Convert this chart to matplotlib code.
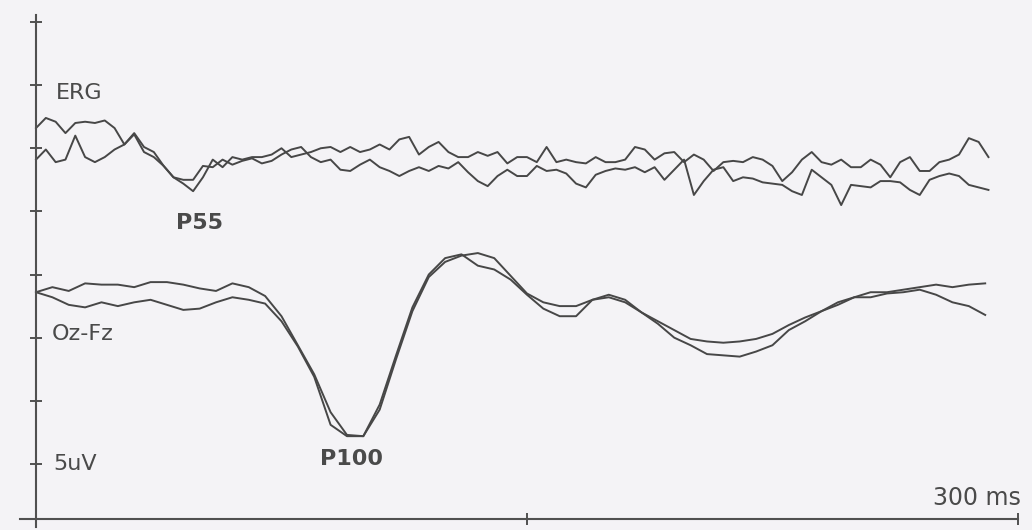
import numpy as np
from matplotlib import pyplot as plt

# time base (ms) and amplitudes (uV)
ERG_T = np.arange(0, 292, 3)
ERG_A = [2.1, 2.9, 2.6, 1.7, 2.5, 2.6, 2.5, 2.7, 2.1, 0.8,
         1.7, 0.6, 0.2, -0.9, -1.8, -2.3, -2.9, -1.8, -0.4, -1.0,
         -0.2, -0.4, -0.2, -0.2, 0.0, 0.5, -0.2, 0.0, 0.2, 0.5,
         0.6, 0.2, 0.6, 0.2, 0.4, 0.8, 0.4, 1.2, 1.4, 0.0,
         0.6, 1.0, 0.2, -0.2, -0.2, 0.2, -0.1, 0.2, -0.7, -0.2,
         -0.2, -0.6, 0.6, -0.6, -0.4, -0.6, -0.7, -0.2, -0.6, -0.6,
         -0.4, 0.6, 0.4, -0.4, 0.1, 0.2, -0.6, 0.0, -0.4, -1.3,
         -0.6, -0.5, -0.6, -0.2, -0.4, -0.9, -2.1, -1.4, -0.4, 0.2,
         -0.6, -0.8, -0.4, -1.0, -1.0, -0.4, -0.8, -1.8, -0.6, -0.2,
         -1.3, -1.3, -0.6, -0.4, 0.0, 1.3, 1.0, -0.2]
ERG_B = [-0.4, 0.4, -0.6, -0.4, 1.5, -0.2, -0.6, -0.2, 0.4, 0.8,
         1.6, 0.2, -0.2, -0.9, -1.8, -2.0, -2.0, -0.9, -1.0, -0.4,
         -0.8, -0.5, -0.3, -0.7, -0.5, 0.0, 0.4, 0.6, -0.2, -0.6,
         -0.4, -1.2, -1.3, -0.8, -0.4, -1.0, -1.3, -1.7, -1.3, -1.0,
         -1.3, -0.9, -1.1, -0.6, -1.4, -2.1, -2.5, -1.7, -1.2, -1.7,
         -1.7, -0.9, -1.3, -1.2, -1.5, -2.3, -2.6, -1.6, -1.3, -1.1,
         -1.2, -1.0, -1.4, -1.0, -2.0, -1.2, -0.4, -3.2, -2.1, -1.2,
         -1.0, -2.1, -1.8, -1.9, -2.2, -2.3, -2.4, -2.9, -3.2, -1.2,
         -1.8, -2.4, -4.0, -2.4, -2.5, -2.6, -2.1, -2.1, -2.2, -2.8,
         -3.2, -2.0, -1.7, -1.5, -1.7, -2.4, -2.6, -2.8]

VEP_T = np.arange(0, 291, 5)
VEP_A = [-0.2, 0.2, -0.1, 0.5, 0.4, 0.4, 0.2, 0.6, 0.6, 0.4,
         0.1, -0.1, 0.5, 0.2, -0.5, -2.1, -4.4, -6.7, -9.7, -11.5,
         -11.6, -9.5, -5.5, -1.7, 1.0, 2.2, 2.7, 2.9, 2.5, 1.1,
         -0.3, -1.0, -1.3, -1.3, -0.8, -0.4, -0.8, -1.8, -2.5, -3.2,
         -3.9, -4.1, -4.2, -4.1, -3.9, -3.5, -2.8, -2.2, -1.7, -1.2,
         -0.6, -0.2, -0.2, 0.0, 0.2, 0.4, 0.2, 0.4, 0.5]
VEP_B = [-0.2, -0.6, -1.2, -1.4, -1.0, -1.3, -1.0, -0.8, -1.2, -1.6,
         -1.5, -1.0, -0.6, -0.8, -1.1, -2.5, -4.5, -6.9, -10.7, -11.6,
         -11.6, -9.1, -5.2, -1.4, 1.2, 2.5, 2.8, 1.9, 1.6, 0.8,
         -0.4, -1.5, -2.1, -2.1, -0.8, -0.6, -1.0, -1.8, -2.7, -3.8,
         -4.4, -5.1, -5.2, -5.3, -4.9, -4.4, -3.2, -2.5, -1.7, -1.0,
         -0.6, -0.6, -0.3, -0.2, 0.0, -0.4, -1.0, -1.3, -2.0]

ERG_OFFSET = 29.5
VEP_OFFSET = 18.8
Y_TICKS = [5, 10, 15, 20, 25, 30, 35, 40]
X_TICKS = [150, 300]

paper = "#f4f3f6"
ink = "#474747"

fig = plt.figure(figsize=(10.32, 5.30), dpi=100, facecolor=paper)
ax = fig.add_axes([0, 0, 1, 1], facecolor=paper)
ax.set_xlim(-11.0, 304.3)
ax.set_ylim(-0.23, 41.74)

for amp in (ERG_A, ERG_B):
    ax.plot(ERG_T, np.asarray(amp) + ERG_OFFSET, color=ink, lw=1.4)
for amp in (VEP_A, VEP_B):
    ax.plot(VEP_T, np.asarray(amp) + VEP_OFFSET, color=ink, lw=1.4)

for s in ("top", "right"):
    ax.spines[s].set_visible(False)
ax.spines["left"].set_position(("data", 0))
ax.spines["left"].set_bounds(0.0, 40.55)
ax.spines["bottom"].set_position(("data", 0.645))
ax.spines["bottom"].set_bounds(-4.9, 300)
for s in ("left", "bottom"):
    ax.spines[s].set_color("#505050")
    ax.spines[s].set_linewidth(1.5)

ax.set_yticks(Y_TICKS)
ax.set_xticks(X_TICKS)
ax.tick_params(direction="inout", length=9, width=1.4, color="#505050",
               labelleft=False, labelbottom=False)

txt = dict(family="DejaVu Sans", color="#4a4a4a", va="baseline", ha="left")
ax.text(6.1, 33.9, "ERG", fontsize=16, **txt)
ax.text(42.8, 23.64, "P55", fontsize=16, fontweight="bold", **txt)
ax.text(4.9, 14.82, "Oz-Fz", fontsize=16, **txt)
ax.text(5.2, 4.52, "5uV", fontsize=16, **txt)
ax.text(86.8, 4.92, "P100", fontsize=16, fontweight="bold", **txt)
ax.text(274.1, 1.75, "300 ms", fontsize=17, **txt)

plt.savefig("out.png", dpi=100, facecolor=fig.get_facecolor())
plt.close()
